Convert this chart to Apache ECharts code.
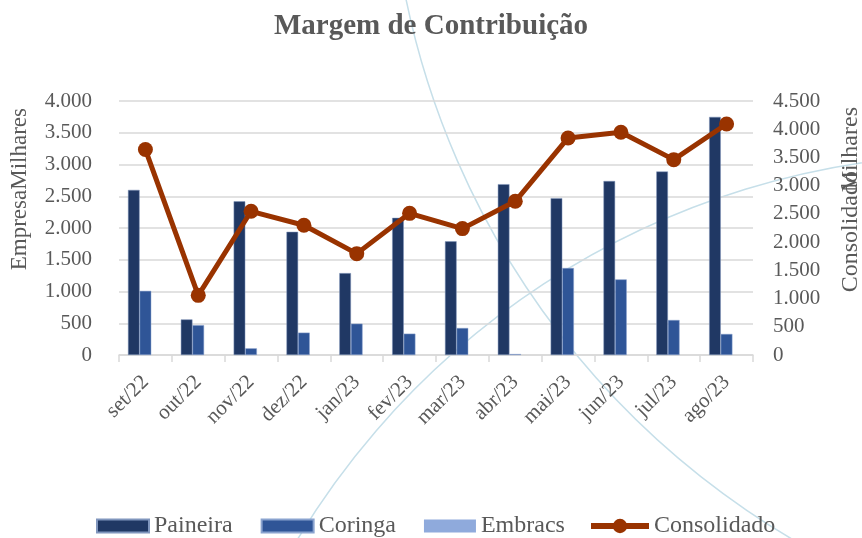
<!DOCTYPE html>
<html>
<head>
<meta charset="utf-8">
<script src="https://cdn.jsdelivr.net/npm/echarts@6/dist/echarts.min.js"></script>
<style>html,body{margin:0;padding:0;background:#fff}#c{width:862px;height:538px}</style>
</head>
<body>
<div id="c"></div>
<script>
const categories = ['set/22','out/22','nov/22','dez/22','jan/23','fev/23','mar/23','abr/23','mai/23','jun/23','jul/23','ago/23'];
const paineira = [2600, 560, 2420, 1940, 1290, 2160, 1790, 2690, 2470, 2740, 2890, 3750];
const coringa = [1010, 470, 105, 352, 493, 336, 425, 15, 1370, 1190, 551, 331];
const embracs = [0, 0, 0, 0, 0, 0, 0, 0, 0, 0, 0, 0];
const consolidado = [3640, 1057, 2546, 2298, 1796, 2510, 2239, 2723, 3845, 3946, 3461, 4093];
const leftTicks = {min: 0, max: 4000, interval: 500};
const rightTicks = {min: 0, max: 4500, interval: 500};

const FONT = '"Liberation Serif", "DejaVu Serif", serif';
const TXT = '#595959';
const fmt = v => String(v).replace(/\B(?=(\d{3})+(?!\d))/g, '.');

const chart = echarts.init(document.getElementById('c'), null, {renderer: 'canvas'});
chart.setOption({
  animation: false,
  backgroundColor: '#fff',
  textStyle: {fontFamily: FONT, color: TXT},
  title: {
    text: 'Margem de Contribuição', left: 'center', top: 7,
    textStyle: {fontFamily: FONT, fontSize: 29, fontWeight: 'bold', color: TXT}
  },
  graphic: [
    {type: 'arc', silent: true, z: -10,
     shape: {cx: 1209, cy: -167, r: 820, startAngle: 1.9, endAngle: 3.0, clockwise: true},
     style: {stroke: '#c6dfe9', lineWidth: 1.5, fill: null}},
    {type: 'arc', silent: true, z: -10,
     shape: {cx: 980, cy: 951, r: 797, startAngle: -2.7, endAngle: -1.6, clockwise: true},
     style: {stroke: '#c6dfe9', lineWidth: 1.5, fill: null}},
    {type: 'text', left: 8, top: 108, rotation: Math.PI/2, silent: true,
     style: {text: 'EmpresaMilhares', fontFamily: FONT, fontSize: 23, fill: TXT}},
    {type: 'text', left: 839, top: 171, rotation: Math.PI/2, silent: true,
     style: {text: 'Consolidado', fontFamily: FONT, fontSize: 24, fill: TXT}},
    {type: 'text', left: 839, top: 107, rotation: Math.PI/2, silent: true,
     style: {text: 'Milhares', fontFamily: FONT, fontSize: 24, fill: TXT}}
  ],
  legend: [
    {top: 509, left: 91, itemWidth: 52, itemHeight: 13, itemGap: 28,
     textStyle: {fontFamily: FONT, fontSize: 24, color: TXT},
     data: [
       {name: 'Paineira', icon: 'rect'},
       {name: 'Coringa', icon: 'rect'},
       {name: 'Embracs', icon: 'rect'}
     ]},
    {top: 509, left: 583, itemWidth: 58, itemHeight: 18,
     textStyle: {fontFamily: FONT, fontSize: 24, color: TXT},
     data: [{name: 'Consolidado', lineStyle: {width: 6}}]}
  ],
  grid: {left: 119, right: 109, top: 101, bottom: 183, containLabel: false},
  xAxis: {
    type: 'category', data: categories,
    axisLine: {lineStyle: {color: '#d9d9d9', width: 1.5}},
    axisTick: {show: true, length: 7, lineStyle: {color: '#d9d9d9', width: 1.5}},
    axisLabel: {rotate: 45, fontFamily: FONT, fontSize: 21, color: TXT, margin: 24}
  },
  yAxis: [
    {type: 'value', min: leftTicks.min, max: leftTicks.max, interval: leftTicks.interval,
     axisLine: {show: false}, axisTick: {show: false},
     splitLine: {lineStyle: {color: '#d9d9d9', width: 1.5}},
     axisLabel: {formatter: fmt, fontFamily: FONT, fontSize: 21, color: TXT, margin: 27}},
    {type: 'value', min: rightTicks.min, max: rightTicks.max, interval: rightTicks.interval,
     axisLine: {show: false}, axisTick: {show: false}, splitLine: {show: false},
     axisLabel: {formatter: fmt, fontFamily: FONT, fontSize: 21, color: TXT, margin: 20, align: 'left'}}
  ],
  series: [
    {name: 'Paineira', type: 'bar', data: paineira, barGap: '0%', barCategoryGap: '34%',
     itemStyle: {color: '#203864', borderColor: '#8096bd', borderWidth: 0.5}},
    {name: 'Coringa', type: 'bar', data: coringa,
     itemStyle: {color: '#2f5597', borderColor: '#8aa3cf', borderWidth: 0.5}},
    {name: 'Embracs', type: 'bar', data: embracs,
     itemStyle: {color: '#8faadc'}},
    {name: 'Consolidado', type: 'line', yAxisIndex: 1, data: consolidado,
     symbol: 'circle', symbolSize: 15, lineStyle: {color: '#993300', width: 5},
     itemStyle: {color: '#993300'}, z: 5}
  ]
});
</script>
</body>
</html>
